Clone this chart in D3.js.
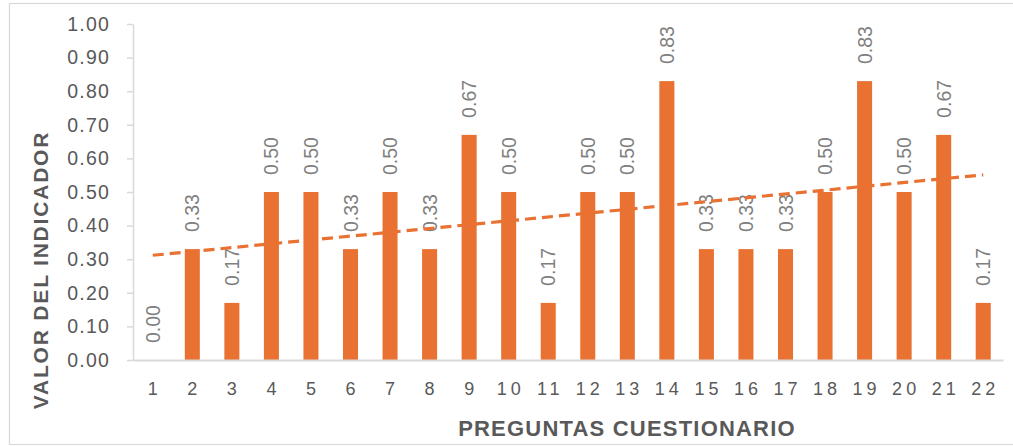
<!DOCTYPE html>
<html>
<head>
<meta charset="utf-8">
<script src="https://cdn.jsdelivr.net/npm/d3@7"></script>
<style>
  html, body { margin: 0; padding: 0; background: #fff; }
  svg { display: block; font-family: "Liberation Sans", Arial, sans-serif; }
</style>
</head>
<body>
<svg id="chart" width="1013" height="446"></svg>
<script>
// Question numbers of the questionnaire
const categories = ["1","2","3","4","5","6","7","8","9","10","11","12","13","14","15","16","17","18","19","20","21","22"];
// Indicator value for each question
const values = [0.00,0.33,0.17,0.50,0.50,0.33,0.50,0.33,0.67,0.50,0.17,0.50,0.50,0.83,0.33,0.33,0.33,0.50,0.83,0.50,0.67,0.17];
// Value axis ticks
const yTicks = [0,0.1,0.2,0.3,0.4,0.5,0.6,0.7,0.8,0.9,1.0];

const barColor = "#E97132";
const svg = d3.select("#chart");

// outer chart frame
svg.append("rect")
  .attr("x", 9.5).attr("y", 3.5)
  .attr("width", 1020).attr("height", 441)
  .attr("fill", "none").attr("stroke", "#d9d9d9").attr("stroke-width", 1.2);

const x = d3.scaleBand(categories, [133, 1003]).paddingInner(0.62).paddingOuter(0.31);
const y = d3.scaleLinear([0, 1], [360, 24]);

// value axis
const yAxis = svg.append("g")
  .attr("transform", "translate(133,0)")
  .call(d3.axisLeft(y).tickValues(yTicks).tickFormat(d3.format(".2f")).tickSize(6).tickSizeOuter(0).tickPadding(17));
yAxis.select(".domain").attr("stroke", "#d9d9d9").attr("stroke-width", 1.5);
yAxis.selectAll(".tick line").attr("stroke", "#d9d9d9").attr("stroke-width", 1.5);
yAxis.selectAll(".tick text")
  .attr("fill", "#595959").attr("font-size", 19.5).attr("letter-spacing", "1.2px")
  .attr("font-family", "\"Liberation Sans\", Arial, sans-serif");

// bars
svg.append("g").selectAll("rect")
  .data(values)
  .join("rect")
  .attr("x", (d, i) => x(categories[i]))
  .attr("y", d => y(d))
  .attr("width", x.bandwidth())
  .attr("height", d => y(0) - y(d))
  .attr("fill", barColor);

// category axis
const xAxis = svg.append("g")
  .attr("transform", "translate(0,360)")
  .call(d3.axisBottom(x).tickSize(0).tickSizeOuter(0).tickPadding(22));
xAxis.select(".domain").attr("stroke", "#d9d9d9").attr("stroke-width", 2);
xAxis.selectAll(".tick text")
  .attr("fill", "#595959").attr("font-size", 18).attr("letter-spacing", "4px")
  .attr("dx", "2px")
  .attr("font-family", "\"Liberation Sans\", Arial, sans-serif");

// vertical value labels above each bar
svg.append("g").selectAll("text")
  .data(values)
  .join("text")
  .attr("transform", (d, i) => {
    const cx = x(categories[i]) + x.bandwidth() / 2;
    return `translate(${cx},${y(d) - 17}) rotate(-90)`;
  })
  .attr("dy", "0.36em")
  .attr("text-anchor", "start")
  .attr("fill", "#7f7f7f")
  .attr("font-size", 19.5)
  .text(d => d3.format(".2f")(d));

// least-squares linear trend over question index
const n = values.length;
const xs = d3.range(1, n + 1);
const mx = d3.mean(xs), my = d3.mean(values);
const sxy = d3.sum(xs, (xi, i) => (xi - mx) * (values[i] - my));
const sxx = d3.sum(xs, xi => (xi - mx) * (xi - mx));
const slope = sxy / sxx;
const intercept = my - slope * mx;
const trend = [1, n].map(k => ({ cat: categories[k - 1], v: intercept + slope * k }));

svg.append("path")
  .datum(trend)
  .attr("d", d3.line().x(d => x(d.cat) + x.bandwidth() / 2).y(d => y(d.v)))
  .attr("fill", "none")
  .attr("stroke", barColor)
  .attr("stroke-width", 3.2)
  .attr("stroke-dasharray", "11,6");

// axis titles
svg.append("text")
  .attr("transform", "translate(48,270) rotate(-90)")
  .attr("text-anchor", "middle")
  .attr("font-size", 21).attr("font-weight", "bold")
  .attr("letter-spacing", "1.8px")
  .attr("fill", "#595959")
  .text("VALOR DEL INDICADOR");

svg.append("text")
  .attr("x", 627).attr("y", 436)
  .attr("text-anchor", "middle")
  .attr("font-size", 22).attr("font-weight", "bold")
  .attr("letter-spacing", "1.2px")
  .attr("fill", "#595959")
  .text("PREGUNTAS CUESTIONARIO");
</script>
</body>
</html>
